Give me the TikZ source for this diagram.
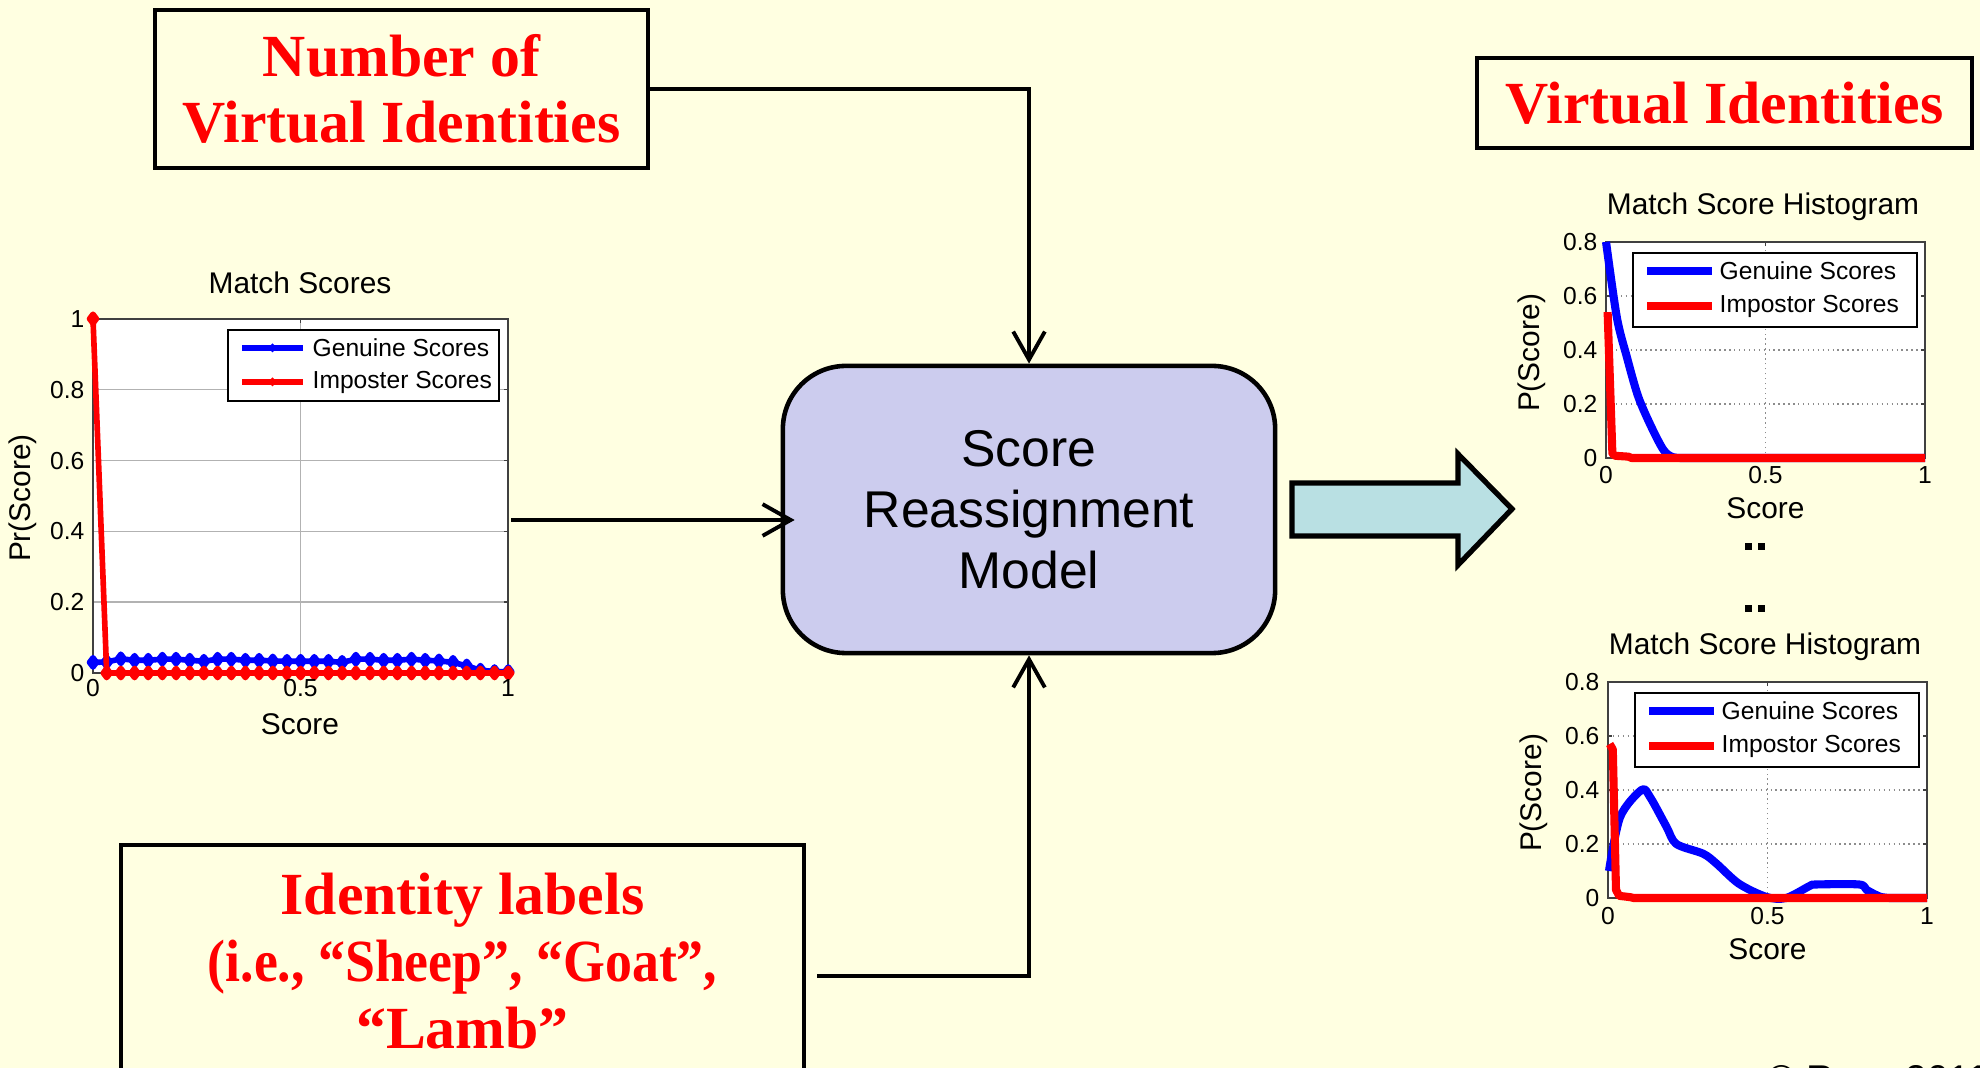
\documentclass[tikz,border=0pt]{standalone}
\usepackage{fontspec}
\setmainfont{Liberation Sans}
\newfontfamily\serifbold{Liberation Serif}
\usetikzlibrary{positioning,arrows.meta,plotmarks}

\definecolor{paper}{RGB}{255,255,225}
\definecolor{boxred}{RGB}{255,0,0}
\definecolor{modelfill}{RGB}{204,204,238}
\definecolor{arrowfill}{RGB}{185,224,227}
\definecolor{genblue}{RGB}{0,0,255}
\definecolor{impred}{RGB}{255,0,0}

% one histogram panel: #1 origin, #2 genuine path, #3 impostor path
\newcommand{\histpanel}[3]{%
  \begin{scope}[shift={#1}]
    \fill[white] (0,0) rectangle (319,-216);
    \foreach \gy in {54,108,162}
      \draw[dotgrid] (0,-\gy) -- (319,-\gy);
    \draw[dotgrid] (159.5,0) -- (159.5,-216);
    \draw[axisline] (0,0) rectangle (319,-216);
    \foreach \gy in {0,54,108,162,216} {
      \draw[axisline] (0,-\gy) -- ++(4,0);
      \draw[axisline] (319,-\gy) -- ++(-4,0);
    }
    \foreach \gx in {0,159.5,319} {
      \draw[axisline] (\gx,0) -- ++(0,-4);
      \draw[axisline] (\gx,-216) -- ++(0,4);
    }
    % curves
    \begin{scope}[x=3.19cm, y=2.70cm]
      \draw[genuine, line width=2.3pt] #2;
      \draw[impostor, line width=2.3pt] #3;
    \end{scope}
    % tick labels
    \foreach \gy/\lab in {0/0,54/0.2,108/0.4,162/0.6,216/0.8}
      \node[ticklab, anchor=east] at (-8,-\gy) {\lab};
    \foreach \gx/\lab in {0/0,159.5/0.5,319/1}
      \node[ticklab, anchor=base] at (\gx,26) {\lab};
    % axis labels
    \node[axlab, anchor=base] at (159.5,61) {Score};
    \node[axlab, rotate=90] at (-74,-105) {P(Score)};
    \node[titlelab, anchor=base] at (157,-243) {Match Score Histogram};
    % legend
    \draw[legendbox] (27,-205) rectangle (311,-131);
    \draw[genuine, line width=2.3pt] (41,-187) -- (106,-187);
    \draw[impostor, line width=2.3pt] (41,-152) -- (106,-152);
    \node[legtext] at (113,-187) {Genuine Scores};
    \node[legtext] at (113,-152) {Impostor Scores};
  \end{scope}}

\begin{document}
\begin{tikzpicture}[x=0.01cm, y=-0.01cm,
    % boxes
    redbox/.style={draw=black, line width=1.2pt, fill=paper, text=boxred,
      font=\serifbold\bfseries\fontsize{17}{19}\selectfont, align=center, inner sep=0pt},
    modelbox/.style={draw=black, line width=1.3pt, fill=modelfill, rounded corners=0.63cm,
      font=\fontsize{14.7}{17.4}\selectfont, align=center,
      minimum width=4.92cm, minimum height=2.87cm},
    conn/.style={line width=1.1pt, -{Straight Barb[length=8pt,width=9pt]}},
    bigarrow/.style={draw=black, line width=1.5pt, fill=arrowfill, line join=miter},
    % plot parts
    axisline/.style={black!75, line width=0.4pt},
    solidgrid/.style={black!30, line width=0.4pt},
    dotgrid/.style={black!45, line width=0.4pt, densely dotted},
    genuine/.style={genblue, line join=round},
    impostor/.style={impred, line join=round},
    legendbox/.style={draw=black, fill=white, line width=0.6pt},
    ticklab/.style={font=\fontsize{7}{8}\selectfont, inner sep=0pt},
    legtext/.style={font=\fontsize{7}{8}\selectfont, anchor=west, inner sep=0pt},
    axlab/.style={font=\fontsize{8.5}{10}\selectfont, inner sep=0pt},
    titlelab/.style={font=\fontsize{8.5}{10}\selectfont, inner sep=0pt}
  ]

  % background and page size
  \useasboundingbox (0,0) rectangle (1980,1068);
  \fill[paper] (0,0) rectangle (1980,1068);

  % --- Boxes ---
  \node[redbox, minimum width=4.93cm, minimum height=1.58cm] (numbox) at (401.5,89)
    {Number of\\Virtual Identities};
  \node[redbox, minimum width=4.95cm, minimum height=0.90cm] (vibox) at (1724.5,103)
    {Virtual Identities};
  \node[redbox, minimum width=6.83cm, minimum height=2.32cm] (labbox) at (462.5,961)
    {Identity labels\\\scalebox{0.9}[1]{(i.e., “Sheep”, “Goat”,}\\“Lamb”};
  \node[modelbox] (model) at (1029,509.5) {Score\\Reassignment\\Model};

  % --- Left plot: match scores ---
  \begin{scope}[shift={(93,673)}]
    \fill[white] (0,0) rectangle (415,-354);
    \foreach \gy in {70.8,141.6,212.4,283.2}
      \draw[solidgrid] (0,-\gy) -- (415,-\gy);
    \draw[solidgrid] (207.5,0) -- (207.5,-354);
    \draw[axisline] (0,0) rectangle (415,-354);
    \foreach \gy in {0,70.8,141.6,212.4,283.2,354}
      \draw[axisline] (415,-\gy) -- ++(-4,0);
    \draw[axisline] (207.5,-354) -- ++(0,4);
    \begin{scope}[x=4.15cm, y=3.54cm]
      \draw[genuine, line width=1.6pt, mark=diamond*, mark size=1.3pt,
        mark options={genblue}] plot coordinates {
        (0,0.030) (0.033,0.031) (0.067,0.040) (0.1,0.036) (0.133,0.036)
        (0.167,0.039) (0.2,0.039) (0.233,0.036) (0.267,0.033) (0.3,0.039)
        (0.333,0.039) (0.367,0.036) (0.4,0.036) (0.433,0.034) (0.467,0.033)
        (0.5,0.033) (0.533,0.033) (0.567,0.033) (0.6,0.030) (0.633,0.039)
        (0.667,0.039) (0.7,0.036) (0.733,0.036) (0.767,0.039) (0.8,0.036)
        (0.833,0.034) (0.867,0.030) (0.9,0.020) (0.933,0.008) (0.967,0.004)
        (1,0.004)};
      \draw[impostor, line width=1.6pt, mark=diamond*, mark size=1.3pt,
        mark options={impred}] plot coordinates {
        (0,1) (0.033,0) (0.067,0) (0.1,0) (0.133,0) (0.167,0) (0.2,0)
        (0.233,0) (0.267,0) (0.3,0) (0.333,0) (0.367,0) (0.4,0) (0.433,0)
        (0.467,0) (0.5,0) (0.533,0) (0.567,0) (0.6,0) (0.633,0) (0.667,0)
        (0.7,0) (0.733,0) (0.767,0) (0.8,0) (0.833,0) (0.867,0) (0.9,0)
        (0.933,0) (0.967,0) (1,0)};
    \end{scope}
    \foreach \gy/\lab in {0/0,70.8/0.2,141.6/0.4,212.4/0.6,283.2/0.8,354/1}
      \node[ticklab, anchor=east] at (-8,-\gy) {\lab};
    \foreach \gx/\lab in {0/0,207.5/0.5,415/1}
      \node[ticklab, anchor=base] at (\gx,24) {\lab};
    \node[axlab, anchor=base] at (207,62) {Score};
    \node[axlab, rotate=90] at (-70,-175) {Pr(Score)};
    \node[titlelab, anchor=base] at (207,-379) {Match Scores};
    % legend
    \draw[legendbox] (135,-343) rectangle (406,-272);
    \draw[genuine, line width=1.8pt] (149,-325) -- (210,-325);
    \draw[impostor, line width=1.8pt] (149,-291) -- (210,-291);
    \fill[genblue] (179.5,-325) +(0,-4.5) -- +(4.5,0) -- +(0,4.5) -- +(-4.5,0) -- cycle;
    \fill[impred] (179.5,-291) +(0,-4.5) -- +(4.5,0) -- +(0,4.5) -- +(-4.5,0) -- cycle;
    \node[legtext] at (219,-325) {Genuine Scores};
    \node[legtext] at (219,-291) {Imposter Scores};
  \end{scope}
  \coordinate (lp) at (511,520);

  % --- Right plots: virtual identities ---
  \histpanel{(1606,458)}
    {plot[smooth] coordinates {(0,0.8) (0.034,0.52) (0.065,0.375) (0.1,0.23)
      (0.14,0.12) (0.18,0.03) (0.21,0.003) (0.25,0)} -- (1,0)}
    {(0.005,0.54) -- (0.02,0.015) -- (0.03,0.008) -- (0.07,0.005) -- (0.08,0) -- (1,0)}
  \histpanel{(1608,898)}
    {plot[smooth] coordinates {(0.003,0.1) (0.038,0.30) (0.105,0.40) (0.131,0.375)
      (0.183,0.264) (0.214,0.2) (0.298,0.164) (0.34,0.127) (0.41,0.053)
      (0.496,0.004) (0.558,0) (0.631,0.044) (0.652,0.05) (0.787,0.05)
      (0.81,0.03) (0.852,0.005) (0.883,0)} -- (1,0)}
    {(0.005,0.57) -- (0.015,0.55) -- (0.025,0.03) -- (0.035,0.008) -- (0.07,0.003) -- (0.08,0) -- (1,0)}

  % dots between the panels
  \foreach \dy in {543,605}
    \foreach \dx in {1745,1758}
      \fill (\dx,\dy) rectangle ++(7,7);

  % --- Draw the connectors ---
  \coordinate (lb) at (817,976);
  \draw[conn] (numbox.east) -| (model.north);
  \draw[conn, shorten >=-4pt] (lp) -- (lp -| model.west);
  \draw[conn] (lb) -| (model.south);
  \draw[bigarrow] (1292,483) -- (1458,483) -- (1458,454) -- (1512,509)
    -- (1458,565) -- (1458,536) -- (1292,536) -- cycle;

  \node[anchor=north west, inner sep=0pt, font=\fontsize{11}{13}\selectfont] (copy)
    at (1767,1065) {© Ross 2011};
\end{tikzpicture}
\end{document}
